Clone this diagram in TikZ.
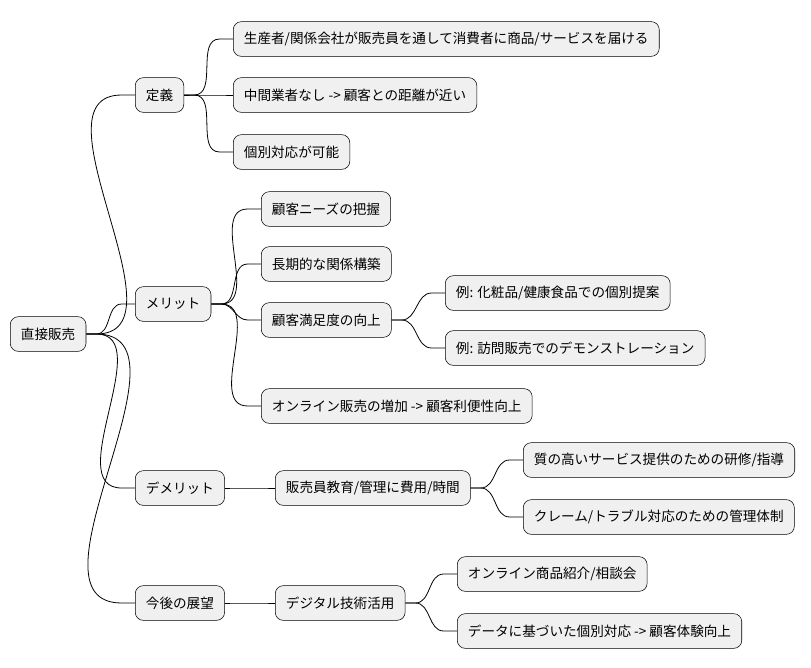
\documentclass[tikz,border=0pt]{standalone}
\usepackage{fontspec}
\setmainfont{Noto Sans CJK JP}
\usetikzlibrary{positioning}
\begin{document}
\begin{tikzpicture}[x=0.75pt, y=-0.75pt,
  topic/.style={rectangle, rounded corners=6pt, draw, fill=gray!12, anchor=west,
    minimum height=26pt, inner xsep=8pt, font=\fontsize{10.2}{12}\selectfont},
  branch/.style={draw, line width=0.6pt}]
\useasboundingbox (0,0) rectangle (811,668);

% root and first level
\node[topic] (root) at (10,334) {直接販売};
\node[topic] (def) at (135,95) {定義};
\node[topic] (merit) at (135,304) {メリット};
\node[topic] (demerit) at (135,488) {デメリット};
\node[topic] (future) at (135,603) {今後の展望};

% definition
\node[topic] (def1) at (233,39) {生産者/関係会社が販売員を通して消費者に商品/サービスを届ける};
\node[topic] (def2) at (233,95) {中間業者なし -> 顧客との距離が近い};
\node[topic] (def3) at (233,152) {個別対応が可能};

% merits
\node[topic] (mer1) at (261,209) {顧客ニーズの把握};
\node[topic] (mer2) at (261,264) {長期的な関係構築};
\node[topic] (mer3) at (261,320) {顧客満足度の向上};
\node[topic] (mer4) at (261,406) {オンライン販売の増加 -> 顧客利便性向上};
\node[topic] (ex1) at (445,293) {例: 化粧品/健康食品での個別提案};
\node[topic] (ex2) at (445,348) {例: 訪問販売でのデモンストレーション};

% demerits
\node[topic] (dem1) at (275,488) {販売員教育/管理に費用/時間};
\node[topic] (dem2) at (523,460) {質の高いサービス提供のための研修/指導};
\node[topic] (dem3) at (523,517) {クレーム/トラブル対応のための管理体制};

% outlook
\node[topic] (fut1) at (275,603) {デジタル技術活用};
\node[topic] (fut2) at (457,574) {オンライン商品紹介/相談会};
\node[topic] (fut3) at (457,631) {データに基づいた個別対応 -> 顧客体験向上};

\foreach \a/\b in {root/def, root/merit, root/demerit, root/future,
    def/def1, def/def2, def/def3, merit/mer1, merit/mer2, merit/mer3, merit/mer4,
    mer3/ex1, mer3/ex2, demerit/dem1, dem1/dem2, dem1/dem3, future/fut1,
    fut1/fut2, fut1/fut3}
  \draw[branch] (\a.east) -- ++(10,0) to[out=0, in=180] ([xshift=-10]\b.west) -- (\b.west);
\end{tikzpicture}
\end{document}
